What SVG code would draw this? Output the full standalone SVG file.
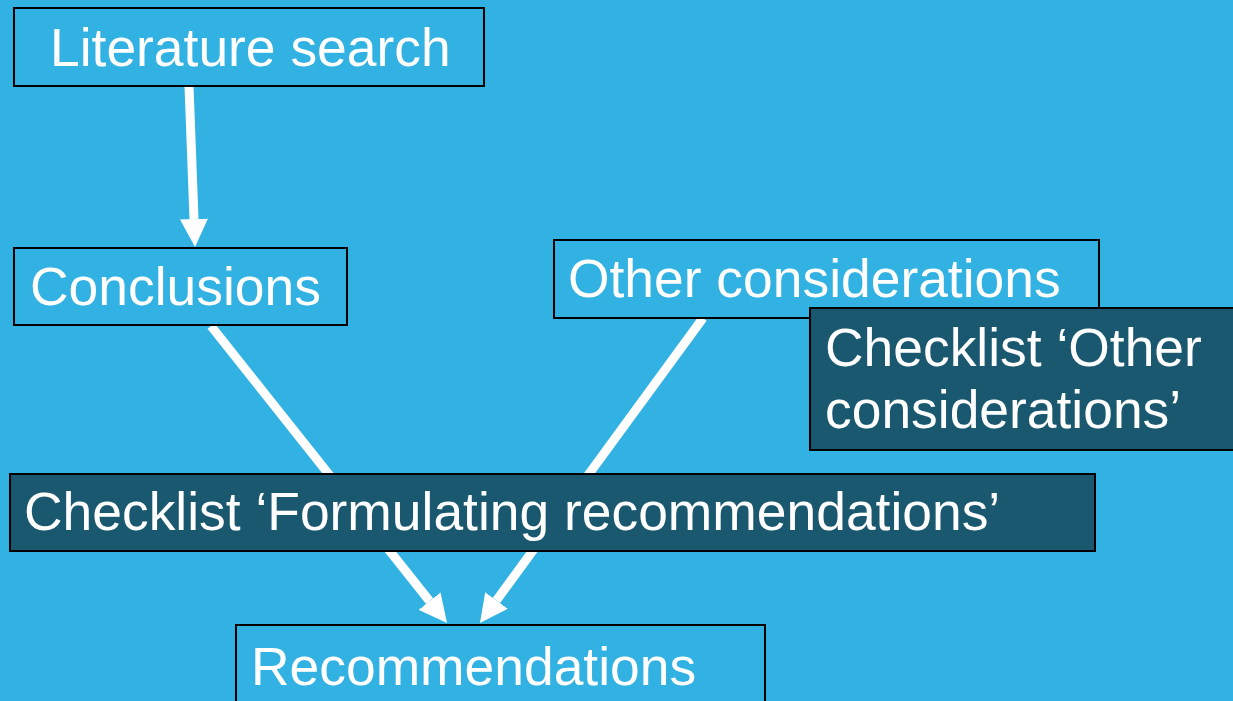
<svg xmlns="http://www.w3.org/2000/svg" width="1233" height="701" viewBox="0 0 1233 701">
<style>
.lb{fill:#32B1E3;stroke:#000;stroke-width:2}
.db{fill:#1A5870;stroke:#000;stroke-width:2}
.t{font-family:"Liberation Sans",Arial,sans-serif;font-size:53.4px;fill:#fff}
.c{stroke:#fff;stroke-width:9;fill:none}
</style>
<defs>
<marker id="ah" markerUnits="userSpaceOnUse" markerWidth="28" markerHeight="28" viewBox="0 0 28 28" refX="0" refY="14" orient="auto">
<path d="M0,0 L28,14 L0,28 z" fill="#fff"/>
</marker>
</defs>
<rect width="1233" height="701" fill="#32B1E3"/>
<g id="connectors">
<line class="c" x1="189" y1="86" x2="194" y2="219" marker-end="url(#ah)"/>
<line class="c" x1="211" y1="326" x2="429.6" y2="601.1" marker-end="url(#ah)"/>
<line class="c" x1="703" y1="318" x2="496.5" y2="600.4" marker-end="url(#ah)"/>
</g>
<g id="literature">
<rect class="lb" x="14" y="8" width="470" height="78"/>
<text class="t" x="50" y="66">Literature search</text>
</g>
<g id="conclusions">
<rect class="lb" x="14" y="248" width="333" height="77"/>
<text class="t" x="30" y="305">Conclusions</text>
</g>
<g id="other">
<rect class="lb" x="554" y="240" width="545" height="78"/>
<text class="t" x="568" y="297">Other considerations</text>
</g>
<g id="checklist-other">
<rect class="db" x="810" y="308" width="430" height="142"/>
<text class="t" x="825" y="366">Checklist ‘Other</text>
<text class="t" x="825" y="428">considerations’</text>
</g>
<g id="checklist-formulating">
<rect class="db" x="10" y="474" width="1085" height="77"/>
<text class="t" x="24" y="530">Checklist ‘Formulating recommendations’</text>
</g>
<g id="recommendations">
<rect class="lb" x="236" y="625" width="529" height="80"/>
<text class="t" x="251" y="685">Recommendations</text>
</g>
</svg>
